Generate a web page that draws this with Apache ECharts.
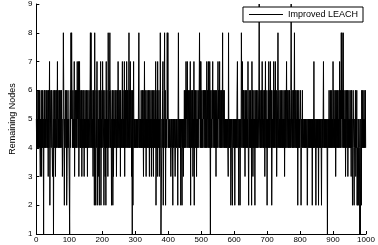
<!DOCTYPE html>
<html><head><meta charset="utf-8">
<script src="https://cdn.jsdelivr.net/npm/echarts@6/dist/echarts.min.js"></script>
<style>html,body{margin:0;padding:0;background:#fff}#c{width:378px;height:245px}</style>
</head><body><div id="c"></div>
<script>
// Remaining nodes per round (one digit per round, 0..999)
const seriesName = "Improved LEACH";
const yAxisName = "Remaining Nodes";
const xTickLabels = [0,100,200,300,400,500,600,700,800,900,1000];
const yTickLabels = [1,2,3,4,5,6,7,8,9];
const remainingNodesDigits = [
"5464546454","6435463546","4515646454","6546453645","7245646543",
"4615464536","5465746454","6454656453","4586425465","4623546454",
"4156485865","4645473546","5464756473","5746454635","4654635464",
"5464536454","6546848546","4536452854","2645724635","4265472546",
"4756425463","5274645384","5468546525","4625364546","5463546475",
"4654636454","5746454736","4654756464","5846475463","4162574545",
"5454545454","4854545464","5464536474","5463546454","6453645463",
"5464536454","6472546374","5463548511","1546725468","4625454858",
"5454545434","5454254545","4345454542","5845454524","5425453546",
"4564756475","4654645726","5464635472","6546453645","4654685747",
"5464546564","6546454756","4574647516","4546574654","6454636454",
"4756457464","5464584654","6454545454","5438454545","2454325454",
"4525454546","7454254524","5486475464","6453645464","5474256454",
"6452746354","6452645464","5464569546","4546475464","5463574645",
"2546475464","7546245464","7546475463","5468546454","6454645464",
"5463546457","4654645464","5469546454","6458465464","5462546454",
"4652454645","5454545454","4524545454","5454545254","5474545425",
"4545452545","4545425454","5745454545","4541545464","5464546454",
"7546454635","4654645464","7546485846","5846454635","4654635464",
"5464536452","4654245463","5462425425","4121542654","6454645464"
];
const remainingNodes = remainingNodesDigits.join("").split("").map(Number);

const chart = echarts.init(document.getElementById('c'), null, {renderer:'canvas'});
const font = 'Arial, "Liberation Sans", sans-serif';
chart.setOption({
  animation:false,
  backgroundColor:'#fff',
  grid:{left:25, right:12, top:4, bottom:11, containLabel:false},
  legend:{
    data:[{name:seriesName, icon:'rect'}], right:15, top:7,
    backgroundColor:'#fff', borderColor:'#000', borderWidth:1, borderRadius:0,
    padding:[3,5,3,6], itemWidth:34, itemHeight:1,
    itemStyle:{color:'#000', borderWidth:0},
    textStyle:{fontSize:9, color:'#000', fontFamily:font}
  },
  xAxis:{
    type:'value', min:xTickLabels[0], max:xTickLabels[xTickLabels.length-1], interval:100,
    axisLine:{lineStyle:{color:'#000', width:1}},
    axisTick:{inside:true, length:3, lineStyle:{color:'#000'}},
    splitLine:{show:false},
    axisLabel:{fontSize:8, color:'#000', margin:2, fontFamily:font, formatter:(v)=>String(v)}
  },
  yAxis:{
    type:'value', min:yTickLabels[0], max:yTickLabels[yTickLabels.length-1], interval:1,
    name:yAxisName, nameLocation:'middle', nameGap:16,
    nameTextStyle:{fontSize:9, color:'#000', fontFamily:font},
    axisLine:{show:true, lineStyle:{color:'#000', width:1}},
    axisTick:{show:true, inside:true, length:3, lineStyle:{color:'#000'}},
    splitLine:{show:false},
    axisLabel:{fontSize:8, color:'#000', margin:4, fontFamily:font}
  },
  series:[{
    name:seriesName, type:'line', symbol:'none', showSymbol:false,
    data:remainingNodes.map((v,i)=>[i,v]),
    lineStyle:{color:'#000', width:1}, itemStyle:{color:'#000'},
    z:2
  }]
});
</script>
</body></html>
